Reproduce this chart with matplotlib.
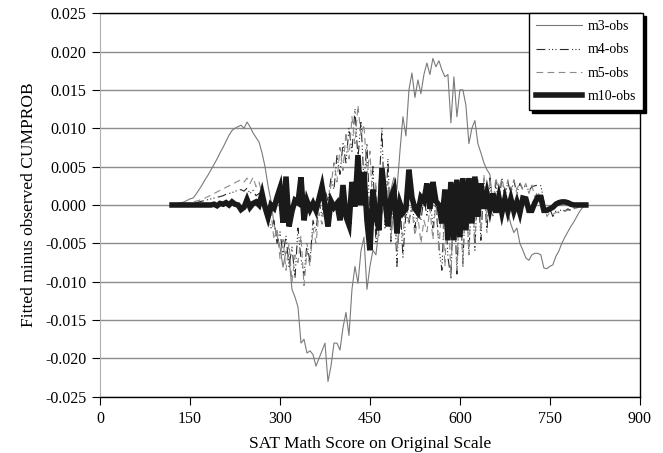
import matplotlib
matplotlib.use("Agg")
import matplotlib.pyplot as plt
import numpy as np

# SAT math scores (original scale)
scores = [120, 125, 130, 135, 140, 145, 150, 155, 160, 165,
          170, 175, 180, 185, 190, 195, 200, 205, 210, 215,
          220, 225, 230, 235, 240, 245, 250, 255, 260, 265,
          270, 275, 280, 285, 290, 295, 300, 305, 310, 315,
          320, 325, 330, 335, 340, 345, 350, 355, 360, 365,
          370, 375, 380, 385, 390, 395, 400, 405, 410, 415,
          420, 425, 430, 435, 440, 445, 450, 455, 460, 465,
          470, 475, 480, 485, 490, 495, 500, 505, 510, 515,
          520, 525, 530, 535, 540, 545, 550, 555, 560, 565,
          570, 575, 580, 585, 590, 595, 600, 605, 610, 615,
          620, 625, 630, 635, 640, 645, 650, 655, 660, 665,
          670, 675, 680, 685, 690, 695, 700, 705, 710, 715,
          720, 725, 730, 735, 740, 745, 750, 755, 760, 765,
          770, 775, 780, 785, 790, 795, 800, 805, 810]

# fitted minus observed CUMPROB, in thousandths
m3_obs = [0.0, 0.1, 0.2, 0.3, 0.4, 0.6, 0.8, 0.9, 1.4, 2.0,
          2.6, 3.3, 3.9, 4.6, 5.3, 6.0, 6.8, 7.5, 8.3, 9.1,
          9.7, 10.0, 10.2, 10.4, 10.0, 10.8, 10.2, 9.4, 8.8, 8.2,
          6.8, 5.0, 2.5, 0.5, -2.5, -4.0, -5.5, -8.1, -6.0, -6.8,
          -11.0, -12.0, -13.3, -18.0, -17.5, -19.3, -19.0, -19.5, -21.0, -20.0,
          -19.0, -18.0, -23.0, -21.0, -18.0, -18.0, -18.9, -16.0, -14.0, -17.0,
          -11.0, -8.0, -10.2, -6.0, -4.2, -11.0, -8.0, -5.9, -6.5, -3.0,
          -1.0, 0.0, -1.0, 2.0, 3.6, 2.0, 7.0, 11.5, 9.0, 15.0,
          17.2, 14.0, 16.3, 14.5, 17.0, 18.5, 17.0, 19.1, 18.0, 18.8,
          17.6, 16.7, 17.0, 10.7, 16.7, 11.5, 15.0, 15.0, 13.0, 8.0,
          10.0, 11.0, 8.0, 6.8, 5.5, 4.6, 4.0, 0.0, 1.5, 0.0,
          -1.0, 0.0, -1.0, -2.5, -3.6, -3.0, -5.0, -5.9, -6.9, -7.2,
          -6.5, -6.3, -6.3, -6.5, -8.2, -8.3, -8.0, -7.8, -6.7, -6.0,
          -5.0, -4.2, -3.5, -2.8, -2.2, -1.5, -0.8, -0.3, 0.0]

m4_obs = [0.0, 0.0, 0.0, 0.0, 0.1, 0.1, 0.2, 0.2, 0.3, 0.4,
          0.5, 0.6, 0.7, 0.8, 0.9, 1.0, 1.1, 1.2, 1.4, 1.5,
          1.6, 1.8, 1.9, 2.0, 1.8, 2.2, 1.5, 1.9, 1.2, 1.5,
          0.8, 0.0, -1.5, -3.0, -2.0, -5.0, -3.5, -6.5, -4.0, -8.0,
          -5.5, -9.5, -3.0, -7.0, -9.2, -5.0, -7.5, -2.0, -3.5, 0.5,
          -1.5, 2.0, 0.5, 3.5, 2.0, 6.5, 4.0, 8.0, 5.5, 10.0,
          7.0, 12.5, 6.0, 11.0, 3.0, 8.0, -2.0, 5.0, -5.0, 2.0,
          10.0, -3.0, 6.0, -5.0, 2.0, -8.0, 1.0, -6.8, -1.0, -2.5,
          0.5, -3.0, 0.0, -2.0, 1.0, -1.5, 1.5, -3.0, 0.5, -5.5,
          -8.5, 1.0, -6.8, -9.5, 2.0, -9.0, 1.0, -7.6, 2.5, -6.5,
          3.0, -5.9, 3.0, -4.6, 3.0, -3.6, 3.5, -1.5, 3.0, 0.0,
          3.6, 1.0, 3.0, 1.5, 3.2, 1.5, 2.8, 2.0, 2.6, 1.8,
          2.4, 2.5, 2.6, 2.5, 0.5, -1.0, -0.5, -1.5, -0.8, -1.0,
          -0.5, -0.8, -0.5, -0.7, -0.5, -0.3, -0.2, -0.1, 0.0]

m5_obs = [0.0, 0.0, 0.0, 0.1, 0.1, 0.2, 0.3, 0.4, 0.5, 0.6,
          0.8, 0.9, 1.1, 1.3, 1.5, 1.7, 1.9, 2.1, 2.3, 2.5,
          2.7, 2.9, 3.1, 3.3, 3.0, 3.5, 2.8, 3.6, 2.4, 3.0,
          1.5, 0.5, -2.0, -1.0, -4.5, -3.0, -7.0, -4.5, -8.5, -5.0,
          -10.0, -6.5, -7.5, -4.0, -10.5, -6.0, -8.0, -3.0, -5.0, -1.0,
          -2.5, 1.0, 0.0, 2.5, 5.5, 3.0, 7.5, 4.5, 9.5, 6.0,
          11.5, 8.0, 13.0, 9.0, 10.5, 4.0, 7.0, -1.0, 3.0, -4.0,
          5.0, -1.5, 3.0, -4.5, 1.5, -6.0, -2.5, -4.0, 0.5, -2.0,
          -0.5, -4.0, -1.5, -5.0, -2.0, -3.5, -0.5, -4.5, 0.5, -6.0,
          1.0, -8.0, 1.5, -9.4, 2.0, -8.5, 2.5, -8.0, 3.0, -6.5,
          3.5, -5.0, 3.5, -3.5, 4.0, -2.0, 3.5, 0.0, 3.6, 1.5,
          3.5, 1.5, 3.3, 2.0, 3.3, 2.0, 3.0, 2.0, 2.8, 1.5,
          2.6, 1.0, 1.8, 0.5, 0.0, -1.5, -1.0, -1.2, -1.0, -0.9,
          -0.8, -0.8, -0.7, -0.7, -0.5, -0.4, -0.2, -0.1, 0.0]

m10_obs = [0.0, 0.0, 0.0, 0.0, 0.0, 0.0, 0.0, 0.0, 0.0, 0.0,
           0.0, 0.0, 0.0, 0.0, 0.1, -0.1, 0.2, 0.1, 0.3, 0.0,
           0.4, 0.1, 0.0, -0.6, -0.3, 0.7, -0.3, 0.2, 0.4, 0.0,
           1.5, -0.3, -1.6, 0.0, -0.4, 1.0, 2.2, -2.3, 3.7, -2.8,
           -0.8, 0.6, 0.3, 3.6, -2.0, 0.5, -0.6, 0.2, -0.7, 0.8,
           2.4, 0.0, -2.8, 0.5, -0.3, 0.2, -2.0, 2.6, -1.5, -2.6,
           3.0, -0.2, 6.5, 0.0, 4.3, -2.0, -5.9, 2.0, -1.5, -3.3,
           4.8, 1.0, -2.8, 1.0, 2.0, -3.7, 0.2, -1.0, -0.5, 4.6,
           1.0, -0.5, -1.0, 1.0, 0.5, 2.8, -0.5, 3.0, 0.5, 0.0,
           -2.4, 2.0, -4.6, 3.0, -4.6, 3.3, -4.2, 3.5, -3.3, 3.5,
           -2.4, 3.7, -1.5, 2.8, -0.5, 1.5, -0.5, 1.5, -1.0, 1.0,
           -1.0, 0.8, -0.8, 0.8, -0.8, 0.4, -1.0, 0.9, 0.8, -0.7,
           -0.7, 0.3, 1.0, 1.0, -0.7, -0.7, -0.5, -0.3, 0.1, 0.3,
           0.4, 0.4, 0.3, 0.1, 0.0, 0.0, 0.0, 0.0, 0.0]

x_ticks = [0, 150, 300, 450, 600, 750, 900]
y_ticks = [-0.025, -0.020, -0.015, -0.010, -0.005, 0.0, 0.005, 0.010, 0.015, 0.020, 0.025]

plt.rcParams['font.family'] = ['Liberation Serif', 'DejaVu Serif']
plt.rcParams['axes.unicode_minus'] = False

fig = plt.figure(figsize=(6.63, 4.53), dpi=100)
ax = fig.add_axes([0.151, 0.124, 0.814, 0.847])

x = np.array(scores)
# thin lines first, the thick one on top
ax.plot(x, np.array(m3_obs) / 1000, color="#7a7a7a", lw=0.8, label="m3-obs")
ax.plot(x, np.array(m4_obs) / 1000, color="#2a2a2a", lw=0.8,
        dashes=(8, 3, 1, 2, 1, 2, 1, 3), label="m4-obs")
ax.plot(x, np.array(m5_obs) / 1000, color="#8a8a8a", lw=0.8,
        dashes=(6, 4), label="m5-obs")
ax.plot(x, np.array(m10_obs) / 1000, color="#1a1a1a", lw=4,
        solid_joinstyle="miter", label="m10-obs")

ax.set_xlim(0, 900)
ax.set_ylim(-0.025, 0.025)
ax.set_xticks(x_ticks)
ax.set_xticklabels([str(t) for t in x_ticks])
ax.set_yticks(y_ticks)
ax.set_yticklabels(["%.3f" % t for t in y_ticks])

# horizontal gridlines only
ax.grid(axis="y", color="#8c8c8c", lw=1)
ax.set_axisbelow(True)

for side in ["top", "right", "bottom"]:
    ax.spines[side].set_color("black")
    ax.spines[side].set_linewidth(1)
ax.spines["left"].set_color("#b0b0b0")
ax.tick_params(direction="out", length=6, width=0.8, labelsize=11.5, pad=4)

ax.set_xlabel("SAT Math Score on Original Scale", fontsize=12.5, labelpad=7)
ax.set_ylabel("Fitted minus observed CUMPROB", fontsize=12.5, labelpad=6)

leg = ax.legend(loc="upper right", bbox_to_anchor=(1.006, 1.0), fontsize=10,
                frameon=True, fancybox=False, handlelength=3.3,
                handletextpad=0.4, labelspacing=0.75, borderpad=0.5,
                borderaxespad=0.0,
                shadow={"color": "black", "alpha": 1.0, "ox": 2, "oy": -2})
leg.get_frame().set_edgecolor("black")
leg.get_frame().set_linewidth(1)
leg.get_frame().set_alpha(1)

plt.savefig("out.png", dpi=100)
